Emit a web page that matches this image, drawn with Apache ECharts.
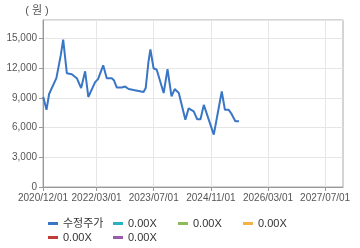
<!DOCTYPE html>
<html><head><meta charset="utf-8">
<script src="https://cdn.jsdelivr.net/npm/echarts@6/dist/echarts.min.js"></script>
<style>html,body{margin:0;padding:0;background:#fff}#c{width:360px;height:248px}</style>
</head><body><div id="c"></div>
<script>
const dates = ['2020-12-03','2020-12-31','2021-01-22','2021-03-25','2021-05-01','2021-05-22','2021-06-22','2021-08-03','2021-09-15','2021-10-22','2021-11-25','2021-12-22','2022-02-18','2022-03-15','2022-04-01','2022-04-28','2022-05-28','2022-07-10','2022-07-28','2022-08-22','2022-10-03','2022-11-01','2022-12-01','2023-01-12','2023-02-24','2023-04-07','2023-04-25','2023-05-19','2023-06-04','2023-07-01','2023-07-28','2023-09-25','2023-10-28','2023-12-01','2023-12-28','2024-02-01','2024-03-28','2024-04-25','2024-06-07','2024-07-07','2024-08-04','2024-09-01','2024-11-25','2025-02-01','2025-02-28','2025-04-01','2025-04-22','2025-05-28','2025-06-28'];
const prices = [9100,7800,9400,11000,13300,14900,11500,11400,11000,10000,11700,9100,10600,10900,10800,12300,11000,11000,10800,10050,10050,10150,9900,9800,9700,9600,10000,12700,13900,12000,11850,9500,11900,9150,9900,9500,6800,7950,7650,6850,6850,8300,5300,9650,7800,7800,7450,6650,6650];
const tickLabels = ['2020/12/01','2022/03/01','2023/07/01','2024/11/01','2026/03/01','2027/07/01'];
const seriesNames = ['수정주가','0.00X','0.00X','0.00X','0.00X','0.00X'];
const seriesColors = ['#3a76c6','#2ab1c2','#8dba5a','#f1b24a','#c03c36','#9b5ba8'];

// monthly categories 2020/12 .. 2027/12
const months = [];
for (let y = 2020, m = 12; y < 2027 || (y === 2027 && m <= 12); ) {
  months.push(y + '/' + String(m).padStart(2, '0') + '/01');
  m++; if (m > 12) { m = 1; y++; }
}
const showIdx = (i) => tickLabels.indexOf(months[i]) >= 0;

const font = '"Liberation Sans", "Noto Sans CJK KR", sans-serif';
const chart = echarts.init(document.getElementById('c'));
const series = seriesNames.map((n, i) => ({
  name: 's' + i,
  type: 'line',
  xAxisIndex: 0,
  data: i === 0 ? dates.map((d, k) => [d, prices[k]]) : [],
  showSymbol: false,
  symbol: 'none',
  lineStyle: { width: 2, color: seriesColors[i] },
  itemStyle: { color: seriesColors[i] },
  animation: false
}));
chart.setOption({
  animation: false,
  textStyle: { fontFamily: font },
  grid: { left: 43, right: 17, top: 20, bottom: 61, show: true, borderColor: '#aaa', borderWidth: 1 },
  xAxis: [
    { type: 'time', min: '2020-12-01', max: '2027-12-01', show: false },
    {
      type: 'category', data: months, boundaryGap: false, position: 'bottom',
      axisLine: { lineStyle: { color: '#999' } },
      axisTick: { show: true, length: 4, interval: (i) => showIdx(i), lineStyle: { color: '#999' } },
      axisLabel: { interval: (i) => showIdx(i), color: '#555', fontSize: 10, margin: 6, fontFamily: font },
      splitLine: { show: true, interval: (i) => showIdx(i), lineStyle: { color: '#e6e6e6' } }
    }
  ],
  yAxis: {
    type: 'value', min: 0, max: 16880, interval: 3000,
    name: '( 원 )', nameGap: 4,
    nameTextStyle: { color: '#555', fontSize: 11, align: 'center', padding: [0, 0, 0, -12], fontFamily: font },
    axisLine: { show: true, lineStyle: { color: '#999' } },
    axisTick: { show: true, length: 4, lineStyle: { color: '#999' } },
    axisLabel: { color: '#555', fontSize: 10, margin: 6, showMaxLabel: false, fontFamily: font,
      formatter: (v) => v.toLocaleString('en-US') },
    splitLine: { lineStyle: { color: '#e6e6e6' } }
  },
  legend: {
    left: 43, top: 213, width: 280,
    data: seriesNames.map((n, i) => ({ name: 's' + i })),
    formatter: (name) => seriesNames[+name.slice(1)],
    icon: 'rect', itemWidth: 10, itemHeight: 3, itemGap: 3,
    textStyle: { color: '#333', fontSize: 11, width: 47, lineHeight: 11, fontFamily: font }
  },
  series: series
});
</script></body></html>
